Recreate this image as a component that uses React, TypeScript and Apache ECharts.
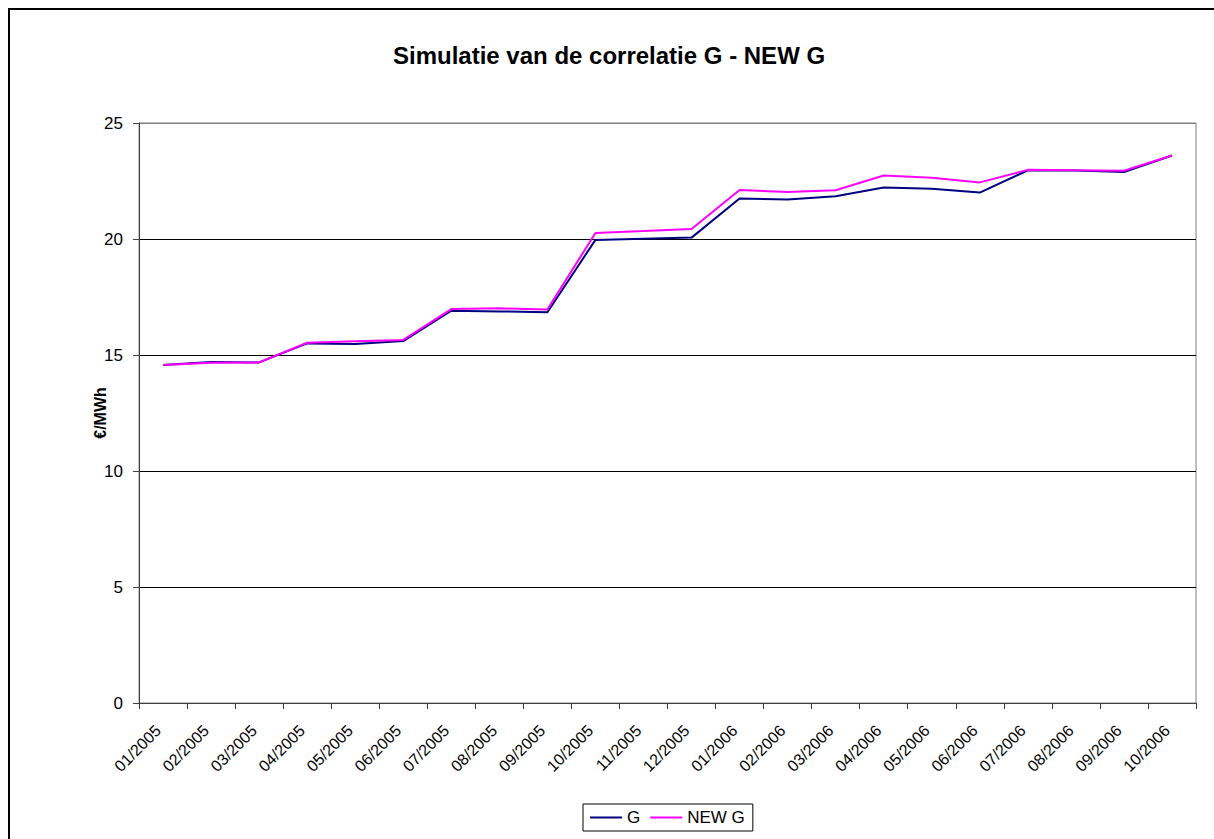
import React, { useEffect, useRef } from "react";
import * as echarts from "echarts";

const categories = [
  "01/2005", "02/2005", "03/2005", "04/2005", "05/2005", "06/2005",
  "07/2005", "08/2005", "09/2005", "10/2005", "11/2005", "12/2005",
  "01/2006", "02/2006", "03/2006", "04/2006", "05/2006", "06/2006",
  "07/2006", "08/2006", "09/2006", "10/2006",
];

const gValues = [
  14.57, 14.7, 14.68, 15.5, 15.47, 15.6,
  16.91, 16.88, 16.84, 19.96, 20.01, 20.06,
  21.75, 21.7, 21.84, 22.22, 22.17, 22.0,
  22.96, 22.95, 22.89, 23.6,
];

const newGValues = [
  14.57, 14.67, 14.68, 15.53, 15.59, 15.65,
  16.98, 17.01, 16.96, 20.26, 20.34, 20.43,
  22.11, 22.03, 22.1, 22.74, 22.64, 22.44,
  22.98, 22.96, 22.94, 23.6,
];

const yTicks = { min: 0, max: 25, interval: 5 };

const FONT = 'Arial, "Liberation Sans", sans-serif';

export default function App() {
  const ref = useRef<HTMLDivElement>(null);

  useEffect(() => {
    if (!ref.current) return;
    const chart = echarts.init(ref.current, null, { renderer: "svg" });
    chart.setOption({
      animation: false,
      backgroundColor: "#ffffff",
      textStyle: { fontFamily: FONT },
      title: {
        text: "Simulatie van de correlatie G - NEW G",
        left: 393,
        top: 43,
        padding: 0,
        textStyle: { fontFamily: FONT, fontSize: 24, fontWeight: "bold", color: "#000" },
      },
      graphic: [
        {
          type: "rect",
          shape: { x: 9, y: 9, width: 1300, height: 900 },
          style: { fill: "none", stroke: "#000", lineWidth: 2 },
          silent: true,
        },
      ],
      legend: {
        left: 583,
        top: 804,
        orient: "horizontal",
        data: ["G", "NEW G"],
        itemWidth: 32,
        itemHeight: 14,
        itemGap: 9,
        padding: [5, 8, 5, 6],
        borderColor: "#000",
        borderWidth: 1,
        itemStyle: { opacity: 0 },
        textStyle: { fontFamily: FONT, fontSize: 17, color: "#000" },
      },
      grid: {
        left: 139,
        top: 123,
        width: 1057,
        height: 580,
        show: true,
        borderColor: "#808080",
        borderWidth: 1,
        containLabel: false,
      },
      xAxis: {
        type: "category",
        data: categories,
        boundaryGap: true,
        axisLine: { show: true, lineStyle: { color: "#404040", width: 1 } },
        axisTick: { show: true, length: 6, lineStyle: { color: "#404040" }, alignWithLabel: false },
        axisLabel: {
          interval: 0,
          rotate: 45,
          margin: 20,
          padding: [0, 7, 0, 0],
          fontFamily: FONT,
          fontSize: 16,
          color: "#000",
        },
        splitLine: { show: false },
      },
      yAxis: {
        type: "value",
        min: yTicks.min,
        max: yTicks.max,
        interval: yTicks.interval,
        name: "€/MWh",
        nameLocation: "middle",
        nameRotate: 90,
        nameGap: 31,
        nameMoveOverlap: false,
        nameTextStyle: { fontFamily: FONT, fontSize: 16, fontWeight: "bold", color: "#000" },
        axisLine: { show: true, lineStyle: { color: "#404040", width: 1 } },
        axisTick: { show: true, length: 6, lineStyle: { color: "#404040" } },
        axisLabel: { margin: 16, fontFamily: FONT, fontSize: 17, color: "#000" },
        splitLine: {
          show: true,
          lineStyle: { color: ["#000", "#000", "#000", "#000", "#000", "#808080"], width: 1 },
        },
      },
      series: [
        {
          name: "G",
          type: "line",
          data: gValues,
          symbol: "none",
          lineStyle: { color: "#000080", width: 2 },
          itemStyle: { color: "#000080" },
        },
        {
          name: "NEW G",
          type: "line",
          data: newGValues,
          symbol: "none",
          lineStyle: { color: "#FF00FF", width: 2 },
          itemStyle: { color: "#FF00FF" },
        },
      ],
    });
    return () => chart.dispose();
  }, []);

  return (
    <div
      ref={ref}
      style={{ position: "fixed", left: 0, top: 0, width: 1214, height: 839 }}
    />
  );
}
